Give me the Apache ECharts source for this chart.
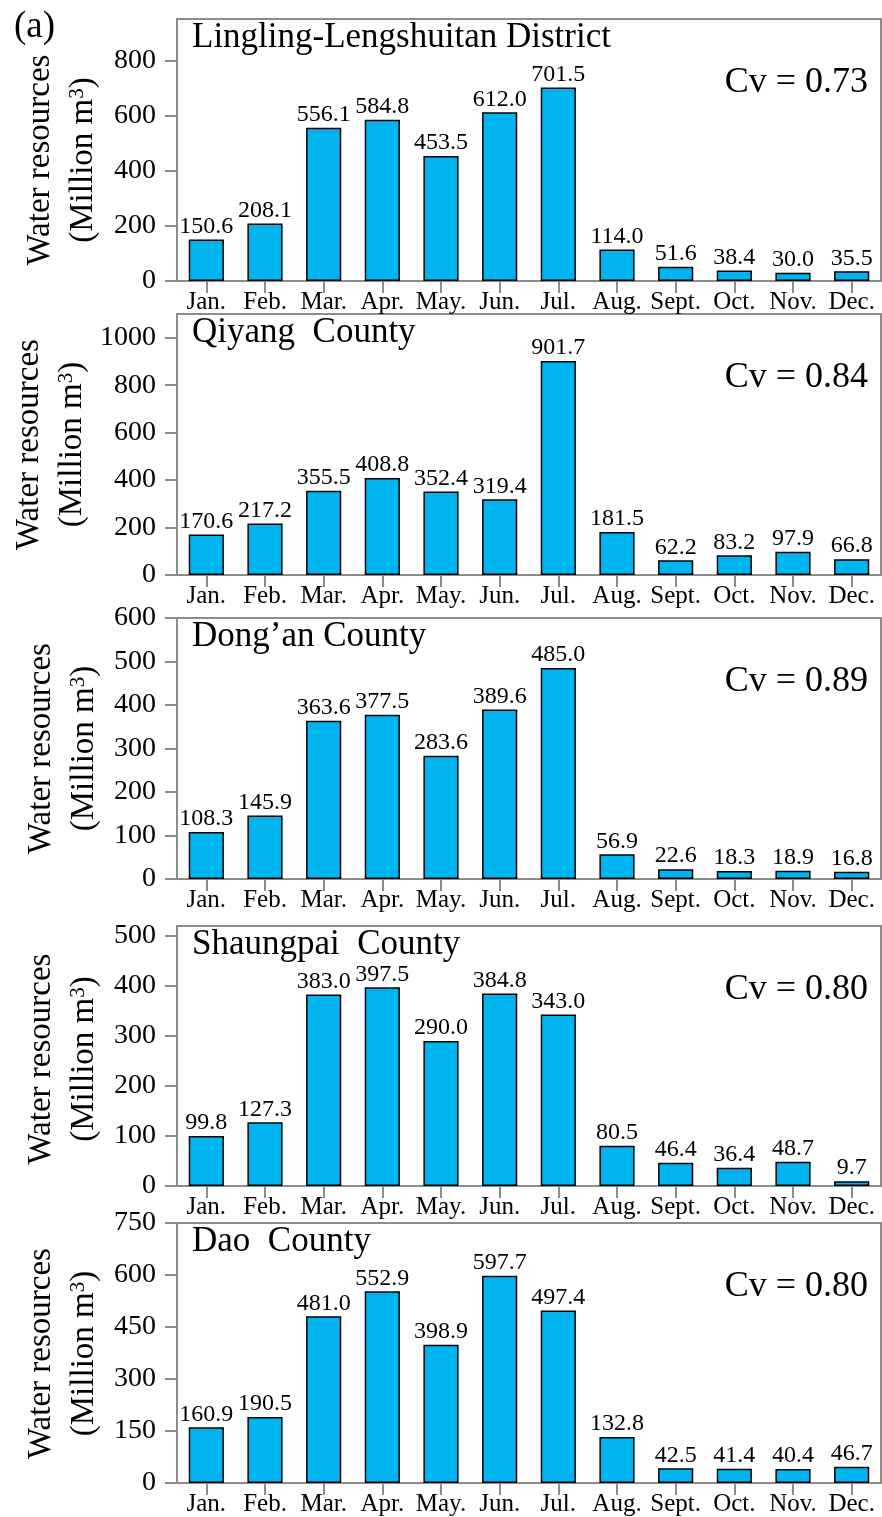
<!DOCTYPE html>
<html>
<head>
<meta charset="utf-8">
<style>
html,body{margin:0;padding:0;background:#fff;}
#chart{width:882px;height:1517px;}
</style>
<script src="https://cdn.jsdelivr.net/npm/echarts@6/dist/echarts.min.js"></script>
</head>
<body>
<div id="chart"></div>
<script>
// ---------- data ----------
const months = ['Jan.','Feb.','Mar.','Apr.','May.','Jun.','Jul.','Aug.','Sept.','Oct.','Nov.','Dec.'];
const panelNames = ['Lingling-Lengshuitan District','Qiyang  County','Dong\u2019an County','Shaungpai  County','Dao  County'];
const cvValues = ['0.73','0.84','0.89','0.80','0.80'];
const linglingValues = [150.6,208.1,556.1,584.8,453.5,612.0,701.5,114.0,51.6,38.4,30.0,35.5];
const qiyangValues = [170.6,217.2,355.5,408.8,352.4,319.4,901.7,181.5,62.2,83.2,97.9,66.8];
const donganValues = [108.3,145.9,363.6,377.5,283.6,389.6,485.0,56.9,22.6,18.3,18.9,16.8];
const shuangpaiValues = [99.8,127.3,383.0,397.5,290.0,384.8,343.0,80.5,46.4,36.4,48.7,9.7];
const daoValues = [160.9,190.5,481.0,552.9,398.9,597.7,497.4,132.8,42.5,41.4,40.4,46.7];
const yMaxes = [950,1100,600,520,750];
const yMajorTicks1 = [0,200,400,600,800];
const yMajorTicks2 = [0,200,400,600,800,1000];
const yMajorTicks3 = [0,100,200,300,400,500,600];
const yMajorTicks4 = [0,100,200,300,400,500];
const yMajorTicks5 = [0,150,300,450,600,750];
const yMinorTicks1 = [100,300,500,700,900];
const yMinorTicks2 = [100,300,500,700,900];
const yMinorTicks3 = [];
const yMinorTicks4 = [50,150,250,350,450];
const yMinorTicks5 = [75,225,375,525,675];

const seriesValues = [linglingValues,qiyangValues,donganValues,shuangpaiValues,daoValues];
const majorTicks = [yMajorTicks1,yMajorTicks2,yMajorTicks3,yMajorTicks4,yMajorTicks5];
const minorTicks = [yMinorTicks1,yMinorTicks2,yMinorTicks3,yMinorTicks4,yMinorTicks5];

// ---------- layout ----------
const gridTops = [19,314,618,926,1223];
const gridBottoms = [281,575,879,1186,1484];
const nameX1 = [40,29,41,41,41];
const nameYOffset = [10,0,0,3,0];
const FONT = '"Liberation Serif","Times New Roman",serif';
const GREY = '#8c8c8c';
const BAR = '#00B4F0';

const grids=[], xAxes=[], yAxes=[], series=[], graphics=[];
for (let i=0;i<5;i++){
  const top=gridTops[i], h=gridBottoms[i]-gridTops[i];
  grids.push({left:177, right:1, top:top, height:h, show:true, borderColor:GREY, borderWidth:2, backgroundColor:'transparent'});
  xAxes.push({
    type:'category', gridIndex:i, data:months, boundaryGap:true,
    axisLine:{show:true, lineStyle:{color:GREY, width:2}},
    axisTick:{show:true, alignWithLabel:true, length:12, inside:false, lineStyle:{color:GREY, width:2}},
    axisLabel:{interval:0, color:'#000', fontFamily:FONT, fontSize:25, margin:9},
    splitLine:{show:false}
  });
  yAxes.push({
    type:'value', gridIndex:i, min:0, max:yMaxes[i],
    axisLine:{show:true, lineStyle:{color:GREY, width:2}},
    axisTick:{show:true, length:12, customValues:majorTicks[i], lineStyle:{color:GREY, width:2}},
    axisLabel:{customValues:majorTicks[i], color:'#000', fontFamily:FONT, fontSize:28, margin:21, formatter:v=>String(v)},
    splitLine:{show:false}
  });
  yAxes.push({
    type:'value', gridIndex:i, min:0, max:yMaxes[i],
    axisLine:{show:false},
    axisTick:{show:minorTicks[i].length>0, length:6, customValues:minorTicks[i].length?minorTicks[i]:[0], lineStyle:{color:GREY, width:2}},
    axisLabel:{show:false},
    splitLine:{show:false}
  });
  series.push({
    type:'bar', xAxisIndex:i, yAxisIndex:2*i, data:seriesValues[i], barWidth:'60%',
    itemStyle:{color:BAR, borderColor:'#000', borderWidth:1.5},
    label:{show:true, position:'top', distance:1, color:'#000', fontFamily:FONT, fontSize:24,
      formatter:p=>p.value.toFixed(1)}
  });
  const cy=(gridTops[i]+gridBottoms[i])/2+nameYOffset[i];
  graphics.push({type:'text', x:nameX1[i], y:cy, rotation:Math.PI/2,
    style:{text:'Water resources', fontFamily:FONT, fontSize:33, fill:'#000', align:'center', verticalAlign:'middle', textAlign:'center', textVerticalAlign:'middle'}});
  graphics.push({type:'text', x:nameX1[i]+43, y:cy, rotation:Math.PI/2,
    style:{text:'(Million m{sup|3})', fontFamily:FONT, fontSize:33, fill:'#000', align:'center', verticalAlign:'middle', textAlign:'center', textVerticalAlign:'middle',
      rich:{sup:{fontFamily:FONT, fontSize:21, fill:'#000', verticalAlign:'top', lineHeight:21}}}});
  graphics.push({type:'text', x:192, y:top+19,
    style:{text:panelNames[i], fontFamily:FONT, fontSize:35, fill:'#000', align:'left', verticalAlign:'middle', textAlign:'left', textVerticalAlign:'middle'}});
  graphics.push({type:'text', x:868, y:top+64, 
    style:{text:'Cv = '+cvValues[i], fontFamily:FONT, fontSize:36, fill:'#000', align:'right', verticalAlign:'middle', textAlign:'right', textVerticalAlign:'middle'}});
}
graphics.push({type:'text', x:14, y:27, style:{text:'(a)', fontFamily:FONT, fontSize:37, fill:'#000', align:'left', verticalAlign:'middle', textAlign:'left', textVerticalAlign:'middle'}});

const chart = echarts.init(document.getElementById('chart'), null, {renderer:'canvas'});
chart.setOption({
  animation:false,
  backgroundColor:'#fff',
  grid:grids, xAxis:xAxes, yAxis:yAxes, series:series, graphic:graphics
});
</script>
</body>
</html>
